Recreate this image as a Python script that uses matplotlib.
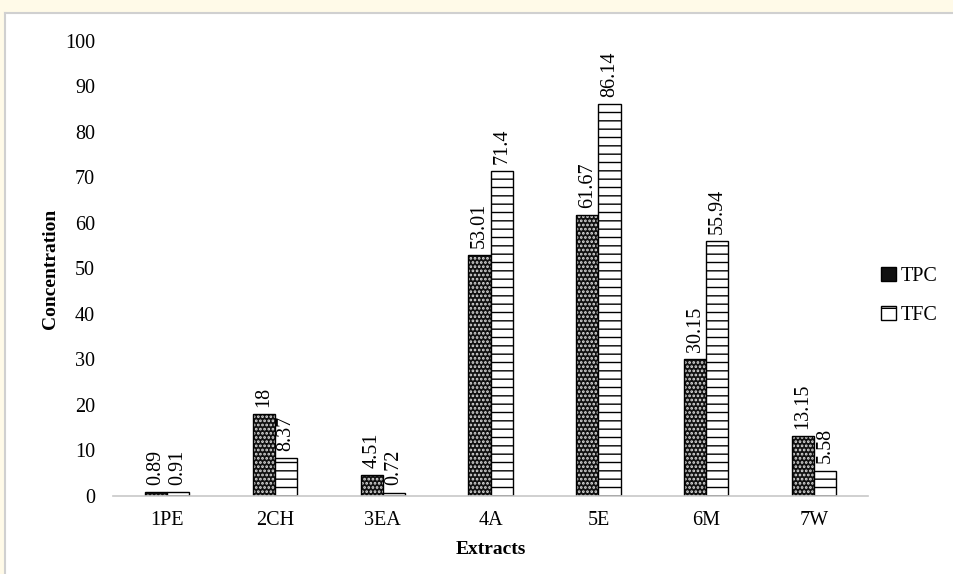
import matplotlib.pyplot as plt
import matplotlib.patches as mpatches
import numpy as np

categories = ["1PE", "2CH", "3EA", "4A", "5E", "6M", "7W"]
tpc = [0.89, 18, 4.51, 53.01, 61.67, 30.15, 13.15]
tfc = [0.91, 8.37, 0.72, 71.4, 86.14, 55.94, 5.58]
tpc_labels = ["0.89", "18", "4.51", "53.01", "61.67", "30.15", "13.15"]
tfc_labels = ["0.91", "8.37", "0.72", "71.4", "86.14", "55.94", "5.58"]
yticks = [0, 10, 20, 30, 40, 50, 60, 70, 80, 90, 100]

plt.rcParams['hatch.linewidth'] = 1.0
serif = ['Liberation Serif', 'DejaVu Serif']

fig = plt.figure(figsize=(9.54, 5.74), dpi=100)
fig.patch.set_facecolor('white')
# outer page background strips and border
fig.add_artist(mpatches.Rectangle((0, 1 - 12/574), 1, 12/574, transform=fig.transFigure,
                                  facecolor='#fffae8', edgecolor='none'))
fig.add_artist(mpatches.Rectangle((0, 0), 5/954, 1, transform=fig.transFigure,
                                  facecolor='#fffae8', edgecolor='none'))
fig.add_artist(plt.Line2D([5/954, 1], [1 - 13/574, 1 - 13/574], transform=fig.transFigure,
                          color='#d0d0d0', lw=1.5))
fig.add_artist(plt.Line2D([5.5/954, 5.5/954], [0, 1 - 13/574], transform=fig.transFigure,
                          color='#d0d0d0', lw=1.5))

ax = fig.add_axes([0.1185, 0.1359, 0.7915, 0.7927])
x = np.arange(len(categories))
w = 0.205

# TPC: black with white dots
ax.bar(x - w/2, tpc, w, color='#111111', edgecolor='black', lw=0)
plt.rcParams['hatch.linewidth'] = 1.3
ax.bar(x - w/2, tpc, w, color='none', edgecolor='#dddddd', hatch='....', lw=0)
plt.rcParams['hatch.linewidth'] = 1.0
ax.bar(x - w/2, tpc, w, color='none', edgecolor='black', lw=1.0)
# TFC: white with horizontal lines
ax.bar(x + w/2, tfc, w, color='white', edgecolor='black', hatch='--', lw=1.0)

lab_font = ['Liberation Serif', 'DejaVu Serif']
for xi, v, s in zip(x - w/2, tpc, tpc_labels):
    ax.text(xi, v + 1.6, s, rotation=90, ha='center', va='bottom', fontsize=14.5,
            family=lab_font)
for xi, v, s in zip(x + w/2, tfc, tfc_labels):
    ax.text(xi, v + 1.6, s, rotation=90, ha='center', va='bottom', fontsize=14.5,
            family=lab_font)

ax.set_xlim(-0.5, len(categories) - 0.5)
ax.set_ylim(0, 100)
ax.set_yticks(yticks)
ax.set_yticklabels([str(t) for t in yticks], family=serif, fontsize=14.5)
ax.set_xticks(x)
ax.set_xticklabels(categories, family=serif, fontsize=14.5)
ax.tick_params(axis='both', length=0)
ax.tick_params(axis='y', pad=13)
ax.tick_params(axis='x', pad=11)
for sp in ['top', 'right', 'left']:
    ax.spines[sp].set_visible(False)
ax.spines['bottom'].set_color('#c8c8c8')
ax.spines['bottom'].set_linewidth(1.2)

ax.set_ylabel("Concentration", family=serif, fontsize=14, fontweight='bold', labelpad=12)
ax.yaxis.set_label_coords(-0.072, 0.5)
ax.set_xlabel("Extracts", family=serif, fontsize=14, fontweight='bold', labelpad=8)

h1 = mpatches.Patch(facecolor='#111111', edgecolor='black')
h2 = mpatches.Patch(facecolor='white', edgecolor='black', hatch='-')
leg = fig.legend([h1, h2], ["TPC", "TFC"], loc='center left', bbox_to_anchor=(0.924, 0.484),
                 frameon=False, prop={'family': serif, 'size': 14.5}, handlelength=0.7,
                 handleheight=0.7, handletextpad=0.25, labelspacing=1.0, borderaxespad=0,
                 borderpad=0)

fig.savefig("out.png", dpi=100)
